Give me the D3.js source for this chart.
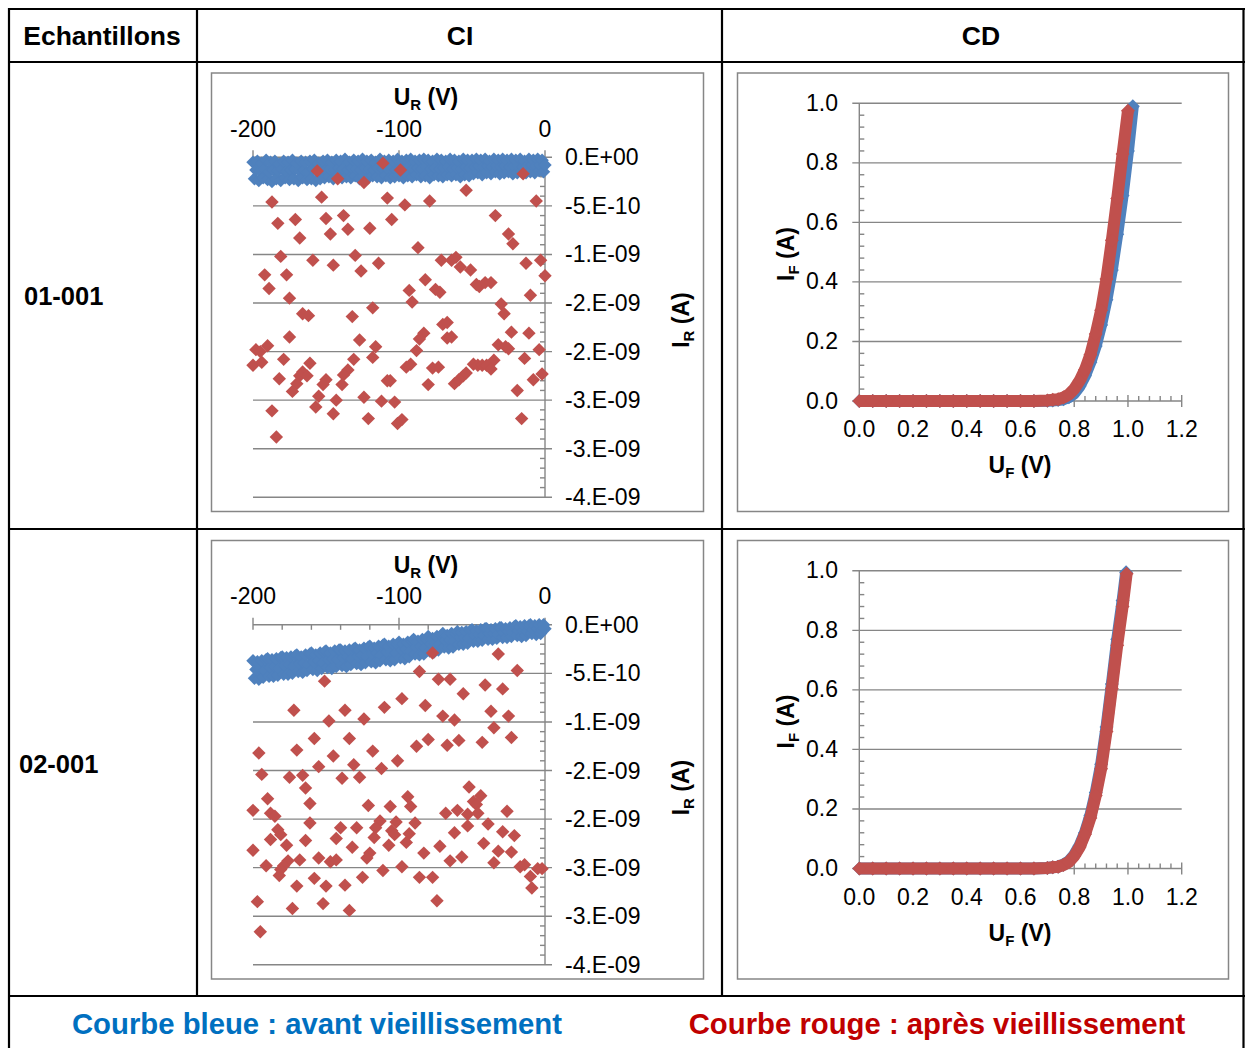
<!DOCTYPE html>
<html>
<head>
<meta charset="utf-8">
<script src="https://cdn.jsdelivr.net/npm/d3@7"></script>
<style>
  body { margin: 0; background: #fff; }
  svg { display: block; font-family: "Liberation Sans", Arial, sans-serif; }
</style>
</head>
<body>
<svg id="chart" width="1245" height="1048"></svg>
<script>
// ---- data: reverse sweep (CI), 1 V steps, currents in nA ----
const sweepV = [-200,-199,-198,-197,-196,-195,-194,-193,-192,-191,-190,-189,-188,-187,-186,-185,-184,-183,-182,-181,
  -180,-179,-178,-177,-176,-175,-174,-173,-172,-171,-170,-169,-168,-167,-166,-165,-164,-163,-162,-161,
  -160,-159,-158,-157,-156,-155,-154,-153,-152,-151,-150,-149,-148,-147,-146,-145,-144,-143,-142,-141,
  -140,-139,-138,-137,-136,-135,-134,-133,-132,-131,-130,-129,-128,-127,-126,-125,-124,-123,-122,-121,
  -120,-119,-118,-117,-116,-115,-114,-113,-112,-111,-110,-109,-108,-107,-106,-105,-104,-103,-102,-101,
  -100,-99,-98,-97,-96,-95,-94,-93,-92,-91,-90,-89,-88,-87,-86,-85,-84,-83,-82,-81,
  -80,-79,-78,-77,-76,-75,-74,-73,-72,-71,-70,-69,-68,-67,-66,-65,-64,-63,-62,-61,
  -60,-59,-58,-57,-56,-55,-54,-53,-52,-51,-50,-49,-48,-47,-46,-45,-44,-43,-42,-41,
  -40,-39,-38,-37,-36,-35,-34,-33,-32,-31,-30,-29,-28,-27,-26,-25,-24,-23,-22,-21,
  -20,-19,-18,-17,-16,-15,-14,-13,-12,-11,-10,-9,-8,-7,-6,-5,-4,-3,-2,-1,0];

const ci1Blue = [
  -0.05,-0.22,-0.13,-0.04,-0.24,-0.14,-0.06,-0.21,-0.12,-0.03,
  -0.23,-0.15,-0.05,-0.25,-0.13,-0.04,-0.22,-0.14,-0.07,-0.24,
  -0.12,-0.04,-0.21,-0.15,-0.05,-0.23,-0.13,-0.03,-0.22,-0.12,
  -0.06,-0.24,-0.14,-0.04,-0.21,-0.13,-0.05,-0.23,-0.15,-0.04,
  -0.22,-0.12,-0.03,-0.24,-0.14,-0.06,-0.22,-0.12,-0.04,-0.21,
  -0.13,-0.03,-0.20,-0.12,-0.05,-0.22,-0.13,-0.03,-0.19,-0.11,
  -0.04,-0.21,-0.12,-0.02,-0.20,-0.13,-0.05,-0.21,-0.11,-0.03,
  -0.19,-0.12,-0.04,-0.22,-0.13,-0.02,-0.20,-0.11,-0.04,-0.21,
  -0.12,-0.03,-0.19,-0.13,-0.05,-0.20,-0.11,-0.02,-0.21,-0.12,
  -0.04,-0.19,-0.11,-0.03,-0.21,-0.12,-0.04,-0.20,-0.13,-0.02,
  -0.19,-0.11,-0.04,-0.21,-0.12,-0.03,-0.19,-0.10,-0.02,-0.20,
  -0.12,-0.04,-0.18,-0.11,-0.03,-0.20,-0.12,-0.02,-0.19,-0.10,
  -0.03,-0.21,-0.12,-0.04,-0.18,-0.11,-0.02,-0.19,-0.12,-0.03,
  -0.20,-0.11,-0.04,-0.18,-0.10,-0.02,-0.19,-0.12,-0.03,-0.18,
  -0.11,-0.04,-0.20,-0.12,-0.02,-0.18,-0.10,-0.03,-0.19,-0.11,
  -0.03,-0.17,-0.10,-0.02,-0.16,-0.09,-0.03,-0.18,-0.10,-0.02,
  -0.16,-0.09,-0.04,-0.17,-0.10,-0.02,-0.15,-0.09,-0.03,-0.17,
  -0.10,-0.02,-0.16,-0.09,-0.03,-0.15,-0.10,-0.02,-0.17,-0.09,
  -0.03,-0.16,-0.09,-0.02,-0.15,-0.10,-0.04,-0.16,-0.09,-0.02,
  -0.15,-0.08,-0.03,-0.16,-0.09,-0.02,-0.14,-0.08,-0.03,-0.15,
  -0.08];

const ci1Red = [[-156,-0.14],[-111,-0.06],[-99,-0.13],[-142,-0.22],[-124,-0.26],[-15,-0.17],[-54,-0.34],[-187,-0.46],
  [-153,-0.41],[-108,-0.42],[-79,-0.45],[-96,-0.49],[-6,-0.45],[-183,-0.68],[-171,-0.64],[-150,-0.63],[-138,-0.60],
  [-135,-0.74],[-120,-0.73],[-105,-0.64],[-34,-0.60],[-168,-0.83],[-147,-0.79],[-25,-0.79],[-22,-0.89],[-87,-0.93],
  [-181,-1.02],[-130,-1.01],[-159,-1.06],[-145,-1.11],[-114,-1.09],[-126,-1.17],[-71,-1.06],[-64,-1.06],[-61,-1.03],
  [-58,-1.13],[-51,-1.16],[-13,-1.09],[-3,-1.06],[0,-1.22],[-192,-1.21],[-177,-1.21],[-189,-1.35],[-82,-1.26],
  [-93,-1.37],[-75,-1.36],[-72,-1.39],[-47,-1.31],[-45,-1.33],[-41,-1.29],[-37,-1.29],[-10,-1.42],[-175,-1.45],
  [-91,-1.49],[-118,-1.55],[-166,-1.61],[-162,-1.63],[-132,-1.64],[-30,-1.51],[-28,-1.61],[-70,-1.72],[-67,-1.70],
  [-175,-1.85],[-83,-1.81],[-86,-1.87],[-67,-1.86],[-64,-1.85],[-23,-1.80],[-11,-1.81],[-127,-1.88],[-198,-1.98],
  [-195,-2.00],[-190,-1.94],[-116,-1.95],[-88,-1.99],[-32,-1.93],[-27,-1.95],[-25,-1.97],[-4,-1.98],[-200,-2.14],
  [-194,-2.11],[-179,-2.08],[-131,-2.08],[-118,-2.06],[-14,-2.07],[-35,-2.09],[-161,-2.12],[-166,-2.21],[-168,-2.25],
  [-163,-2.25],[-95,-2.16],[-92,-2.13],[-77,-2.17],[-73,-2.16],[-49,-2.13],[-46,-2.14],[-43,-2.14],[-40,-2.14],
  [-37,-2.18],[-182,-2.28],[-135,-2.19],[-138,-2.24],[-170,-2.33],[-150,-2.29],[-152,-2.34],[-139,-2.34],[-108,-2.30],
  [-106,-2.30],[-80,-2.34],[-62,-2.33],[-59,-2.29],[-56,-2.25],[-54,-2.22],[-8,-2.29],[-2,-2.23],[-173,-2.41],
  [-155,-2.46],[-157,-2.57],[-143,-2.50],[-124,-2.47],[-112,-2.51],[-103,-2.52],[-19,-2.40],[-187,-2.61],[-145,-2.64],
  [-121,-2.69],[-101,-2.74],[-98,-2.70],[-16,-2.69],[-184,-2.88]];

const ci2Blue = [
  -0.37,-0.55,-0.46,-0.38,-0.56,-0.45,-0.37,-0.54,-0.47,-0.36,
  -0.35,-0.53,-0.44,-0.36,-0.53,-0.43,-0.35,-0.52,-0.45,-0.34,
  -0.33,-0.51,-0.42,-0.34,-0.51,-0.41,-0.33,-0.50,-0.43,-0.32,
  -0.31,-0.48,-0.40,-0.33,-0.49,-0.39,-0.31,-0.47,-0.41,-0.30,
  -0.29,-0.46,-0.38,-0.31,-0.47,-0.37,-0.29,-0.45,-0.39,-0.28,
  -0.27,-0.44,-0.36,-0.29,-0.45,-0.35,-0.27,-0.43,-0.36,-0.26,
  -0.26,-0.42,-0.34,-0.27,-0.43,-0.33,-0.26,-0.41,-0.35,-0.25,
  -0.24,-0.40,-0.32,-0.26,-0.41,-0.31,-0.24,-0.39,-0.33,-0.23,
  -0.22,-0.38,-0.30,-0.24,-0.39,-0.29,-0.22,-0.37,-0.31,-0.21,
  -0.20,-0.36,-0.28,-0.22,-0.37,-0.28,-0.20,-0.36,-0.29,-0.20,
  -0.18,-0.34,-0.26,-0.20,-0.35,-0.25,-0.18,-0.33,-0.27,-0.17,
  -0.15,-0.30,-0.23,-0.17,-0.31,-0.22,-0.15,-0.30,-0.24,-0.15,
  -0.12,-0.27,-0.20,-0.14,-0.28,-0.19,-0.12,-0.26,-0.20,-0.11,
  -0.09,-0.23,-0.16,-0.11,-0.24,-0.16,-0.09,-0.23,-0.17,-0.09,
  -0.07,-0.20,-0.13,-0.08,-0.20,-0.13,-0.07,-0.19,-0.14,-0.06,
  -0.05,-0.17,-0.11,-0.06,-0.17,-0.10,-0.05,-0.16,-0.11,-0.04,
  -0.04,-0.15,-0.09,-0.05,-0.15,-0.09,-0.04,-0.14,-0.10,-0.03,
  -0.03,-0.13,-0.08,-0.04,-0.13,-0.07,-0.03,-0.12,-0.08,-0.02,
  -0.01,-0.11,-0.06,-0.02,-0.12,-0.06,-0.01,-0.11,-0.07,-0.01,
  0.00,-0.09,-0.05,-0.01,-0.10,-0.04,0.00,-0.09,-0.05,0.00,
  -0.04];

const ci2Red = [[-77,-0.29],[-32,-0.30],[-86,-0.48],[-19,-0.47],[-151,-0.58],[-73,-0.56],[-65,-0.56],[-41,-0.62],
  [-29,-0.66],[-56,-0.71],[-98,-0.76],[-110,-0.85],[-82,-0.83],[-172,-0.88],[-137,-0.88],[-37,-0.89],[-25,-0.94],
  [-124,-0.97],[-70,-0.94],[-62,-0.98],[-148,-0.99],[-35,-1.06],[-158,-1.17],[-134,-1.17],[-80,-1.18],[-59,-1.19],
  [-23,-1.16],[-88,-1.25],[-67,-1.24],[-43,-1.21],[-196,-1.32],[-170,-1.29],[-118,-1.30],[-145,-1.35],[-101,-1.40],
  [-155,-1.46],[-131,-1.44],[-112,-1.48],[-194,-1.54],[-175,-1.57],[-166,-1.55],[-139,-1.58],[-127,-1.57],[-164,-1.68],
  [-52,-1.67],[-190,-1.79],[-94,-1.77],[-44,-1.76],[-161,-1.84],[-49,-1.82],[-47,-1.85],[-200,-1.91],[-188,-1.94],
  [-121,-1.86],[-106,-1.87],[-92,-1.87],[-60,-1.91],[-26,-1.92],[-185,-1.97],[-68,-1.94],[-53,-1.95],[-46,-1.94],
  [-161,-2.04],[-113,-2.02],[-102,-2.03],[-89,-2.04],[-53,-2.07],[-39,-2.05],[-183,-2.11],[-181,-2.16],[-140,-2.09],
  [-129,-2.09],[-116,-2.09],[-105,-2.12],[-103,-2.16],[-117,-2.19],[-62,-2.14],[-29,-2.13],[-21,-2.17],[-188,-2.21],
  [-143,-2.20],[-164,-2.22],[-177,-2.27],[-107,-2.27],[-95,-2.24],[-93,-2.15],[-200,-2.32],[-132,-2.29],[-72,-2.28],
  [-42,-2.25],[-83,-2.35],[-32,-2.33],[-23,-2.34],[-120,-2.35],[-122,-2.40],[-57,-2.39],[-155,-2.40],[-147,-2.44],
  [-143,-2.42],[-168,-2.42],[-176,-2.43],[-191,-2.48],[-179,-2.48],[-181,-2.52],[-65,-2.43],[-35,-2.45],[-17,-2.49],
  [-14,-2.47],[-98,-2.49],[-10,-2.59],[-5,-2.51],[-2,-2.51],[-182,-2.58],[-158,-2.61],[-125,-2.60],[-111,-2.53],
  [-86,-2.60],[-77,-2.60],[-9,-2.71],[-170,-2.69],[-150,-2.69],[-137,-2.68],[-197,-2.85],[-152,-2.87],[-74,-2.84],
  [-173,-2.92],[-134,-2.94],[-195,-3.16]];

// ---- data: forward characteristic (CD), V and A ----
const cd1BlueV = [0,0.05,0.1,0.15,0.2,0.25,0.3,0.35,0.4,0.45,0.5,0.55,0.6,0.65,0.7,0.72,0.74,0.76,0.78,0.80,0.82,0.84,0.86,0.88,0.90,0.92,0.94,0.96,0.98,1.00,1.018];
const cd1BlueI = [0,0,0,0,0,0,0,0,0,0,0,0,0,0,0.001,0.002,0.003,0.006,0.013,0.026,0.05,0.085,0.13,0.185,0.255,0.34,0.44,0.56,0.69,0.84,0.99];
const cd1RedV = [0,0.05,0.1,0.15,0.2,0.25,0.3,0.35,0.4,0.45,0.5,0.55,0.6,0.65,0.7,0.72,0.74,0.76,0.78,0.80,0.82,0.84,0.86,0.88,0.90,0.92,0.94,0.96,0.98,1.00];
const cd1RedI = [0,0,0,0,0,0,0,0,0,0,0,0,0,0,0.002,0.004,0.006,0.012,0.022,0.04,0.068,0.105,0.155,0.225,0.305,0.41,0.54,0.68,0.83,0.975];
const cd2BlueV = [0,0.05,0.1,0.15,0.2,0.25,0.3,0.35,0.4,0.45,0.5,0.55,0.6,0.65,0.7,0.72,0.74,0.76,0.78,0.80,0.82,0.84,0.86,0.88,0.90,0.92,0.94,0.96,0.98,0.993];
const cd2BlueI = [0,0,0,0,0,0,0,0,0,0,0,0,0,0,0.002,0.004,0.006,0.013,0.024,0.045,0.076,0.12,0.178,0.255,0.35,0.475,0.62,0.77,0.9,0.995];
const cd2RedV = [0,0.05,0.1,0.15,0.2,0.25,0.3,0.35,0.4,0.45,0.5,0.55,0.6,0.65,0.7,0.72,0.74,0.76,0.78,0.80,0.82,0.84,0.86,0.88,0.90,0.92,0.94,0.96,0.98,0.995];
const cd2RedI = [0,0,0,0,0,0,0,0,0,0,0,0,0,0,0.002,0.004,0.006,0.012,0.022,0.042,0.072,0.115,0.17,0.245,0.335,0.46,0.605,0.75,0.88,0.99];

const ciXTicks = [-200, -100, 0];
const cdTicks = [0, 0.2, 0.4, 0.6, 0.8, 1.0, 1.2];
const sampleNames = ['01-001', '02-001'];

const BLUE = '#4f81bd', RED = '#c0504d', GRID = '#868686';
const svg = d3.select('#chart');
svg.append('rect').attr('width', 1245).attr('height', 1048).attr('fill', '#fff');

const zip = (xs, ys) => xs.map((v, i) => [v, ys[i]]);

// Excel style "0.E+00" label, v in nA
function sciLabel(v) {
    if (Math.abs(v) < 1e-9) return '0.E+00';
    const a = Math.abs(v);
    let e = a >= 1 ? -9 : -10;
    let m = Math.round((a >= 1 ? a : a * 10) + 1e-9);
    if (m >= 10) { m = 1; e += 1; }
    return (v < 0 ? '-' : '') + m + '.E' + (e < 0 ? '-' : '+') + String(Math.abs(e)).padStart(2, '0');
}

function line(g, x1, y1, x2, y2) {
    g.append('line').attr('x1', x1).attr('y1', y1).attr('x2', x2).attr('y2', y2)
        .attr('stroke', GRID).attr('stroke-width', 1.4);
}

function subTitle(g, main, sub, rest, x, y, rot) {
    const t = g.append('text').attr('x', x).attr('y', y).attr('text-anchor', 'middle')
        .attr('font-size', 23).attr('font-weight', 'bold');
    if (rot) t.attr('transform', `rotate(-90,${x},${y})`);
    t.append('tspan').text(main);
    t.append('tspan').attr('font-size', 15).attr('dy', 5).text(sub);
    t.append('tspan').attr('dy', -5).text(rest);
}

function markers(g, pts, x, y, color, size) {
    g.selectAll(null).data(pts).enter().append('path')
        .attr('d', d3.symbol(d3.symbolSquare, size)())
        .attr('transform', d => `translate(${x(d[0])},${y(d[1])}) rotate(45)`)
        .attr('fill', color);
}

function drawCI(dy, blue, red) {
    const g = svg.append('g').attr('transform', `translate(0,${dy})`);
    g.append('rect').attr('x', 211.5).attr('y', 73).attr('width', 492).attr('height', 438.5)
        .attr('fill', '#fff').attr('stroke', GRID).attr('stroke-width', 1.5);

    const x = d3.scaleLinear().domain([-200, 0]).range([253, 545]);
    const y = d3.scaleLinear().domain([0, -3.5]).range([157.3, 497.3]);
    const yMajor = d3.range(0, -3.51, -0.5);
    const yMinor = d3.range(0, -3.51, -0.1).filter(v => Math.abs(v * 2 - Math.round(v * 2)) > 1e-6);
    const xMinor = d3.range(-180, 0, 20).filter(v => v !== -100);

    yMajor.forEach(v => line(g, x(-200), y(v), x(0) + 7, y(v)));
    yMinor.forEach(v => line(g, x(0) - 5, y(v), x(0), y(v)));
    line(g, x(0), y(0), x(0), y(-3.5));
    ciXTicks.forEach(v => line(g, x(v), y(0) - 7, x(v), y(0) + 5));
    xMinor.forEach(v => line(g, x(v), y(0), x(v), y(0) + 5));

    g.selectAll(null).data(ciXTicks).enter().append('text')
        .attr('x', d => x(d)).attr('y', y(0) - 20.5).attr('text-anchor', 'middle')
        .attr('font-size', 23).text(d => d);
    g.selectAll(null).data(yMajor).enter().append('text')
        .attr('x', 565).attr('y', d => y(d) + 8).attr('font-size', 23).text(sciLabel);

    subTitle(g, 'U', 'R', ' (V)', 426, 105, false);
    subTitle(g, 'I', 'R', ' (A)', 689, 320, true);

    markers(g, zip(sweepV, blue), x, y, BLUE, 90);
    markers(g, red, x, y, RED, 90);
}

function drawCD(dy, blueV, blueI, redV, redI) {
    const g = svg.append('g').attr('transform', `translate(0,${dy})`);
    g.append('rect').attr('x', 737.5).attr('y', 73).attr('width', 491).attr('height', 438.5)
        .attr('fill', '#fff').attr('stroke', GRID).attr('stroke-width', 1.5);

    const x = d3.scaleLinear().domain([0, 1.2]).range([859.3, 1181.7]);
    const y = d3.scaleLinear().domain([0, 1]).range([401, 103.3]);
    const yMajor = cdTicks.filter(v => v <= 1.0001);
    const minor = d3.range(0, 1.201, 0.04).filter(v => Math.abs(v * 5 - Math.round(v * 5)) > 1e-6);

    yMajor.forEach(v => line(g, x(0) - 7, y(v), v === 0 ? x(0) : x(1.2), y(v)));
    minor.filter(v => v < 1.0001).forEach(v => line(g, x(0), y(v), x(0) + 5, y(v)));
    line(g, x(0), y(0), x(0), y(1));
    line(g, x(0), y(0), x(1.2), y(0));
    cdTicks.forEach(v => line(g, x(v), y(0) - 6, x(v), y(0) + 6));
    minor.forEach(v => line(g, x(v), y(0) - 5, x(v), y(0)));

    g.selectAll(null).data(yMajor).enter().append('text')
        .attr('x', 838).attr('y', d => y(d) + 7.5).attr('text-anchor', 'end')
        .attr('font-size', 23).text(d => d.toFixed(1));
    g.selectAll(null).data(cdTicks).enter().append('text')
        .attr('x', d => x(d)).attr('y', y(0) + 36).attr('text-anchor', 'middle')
        .attr('font-size', 23).text(d => d.toFixed(1));

    subTitle(g, 'U', 'F', ' (V)', 1020, 473, false);
    subTitle(g, 'I', 'F', ' (A)', 794, 254, true);

    const path = d3.line().x(d => x(d[0])).y(d => y(d[1]));
    [[zip(blueV, blueI), BLUE], [zip(redV, redI), RED]].forEach(([pts, c]) => {
        g.append('path').datum(pts).attr('d', path).attr('fill', 'none')
            .attr('stroke', c).attr('stroke-width', 12).attr('stroke-linejoin', 'round');
        markers(g, pts, x, y, c, 98);
    });
}

drawCI(0, ci1Blue, ci1Red);
drawCI(467.5, ci2Blue, ci2Red);
drawCD(0, cd1BlueV, cd1BlueI, cd1RedV, cd1RedI);
drawCD(467.5, cd2BlueV, cd2BlueI, cd2RedV, cd2RedI);

// ---- table frame ----
const tb = svg.append('g').attr('stroke', '#000').attr('stroke-width', 2.2);
[[8, 9, 1245, 9], [8, 62, 1245, 62], [8, 529, 1245, 529], [8, 996, 1245, 996],
 [9, 8, 9, 1048], [197, 9, 197, 996], [722, 9, 722, 996], [1243.5, 8, 1243.5, 1048]]
    .forEach(([x1, y1, x2, y2]) => tb.append('line').attr('x1', x1).attr('y1', y1).attr('x2', x2).attr('y2', y2));

const head = svg.append('g').attr('font-size', 26.5).attr('font-weight', 'bold').attr('text-anchor', 'middle');
head.append('text').attr('x', 102).attr('y', 45).text('Echantillons');
head.append('text').attr('x', 460).attr('y', 45).text('CI');
head.append('text').attr('x', 981).attr('y', 45).text('CD');

svg.selectAll('.sample').data(sampleNames).enter().append('text')
    .attr('x', (d, i) => i ? 19 : 24).attr('y', (d, i) => 305 + i * 467.5)
    .attr('font-size', 25.5).attr('font-weight', 'bold').text(d => d);

svg.append('text').attr('x', 317).attr('y', 1034).attr('text-anchor', 'middle')
    .attr('font-size', 29.3).attr('font-weight', 'bold').attr('fill', '#0070c0')
    .text('Courbe bleue : avant vieillissement');
svg.append('text').attr('x', 937).attr('y', 1034).attr('text-anchor', 'middle')
    .attr('font-size', 29.3).attr('font-weight', 'bold').attr('fill', '#c00000')
    .text('Courbe rouge : après vieillissement');
</script>
</body>
</html>
